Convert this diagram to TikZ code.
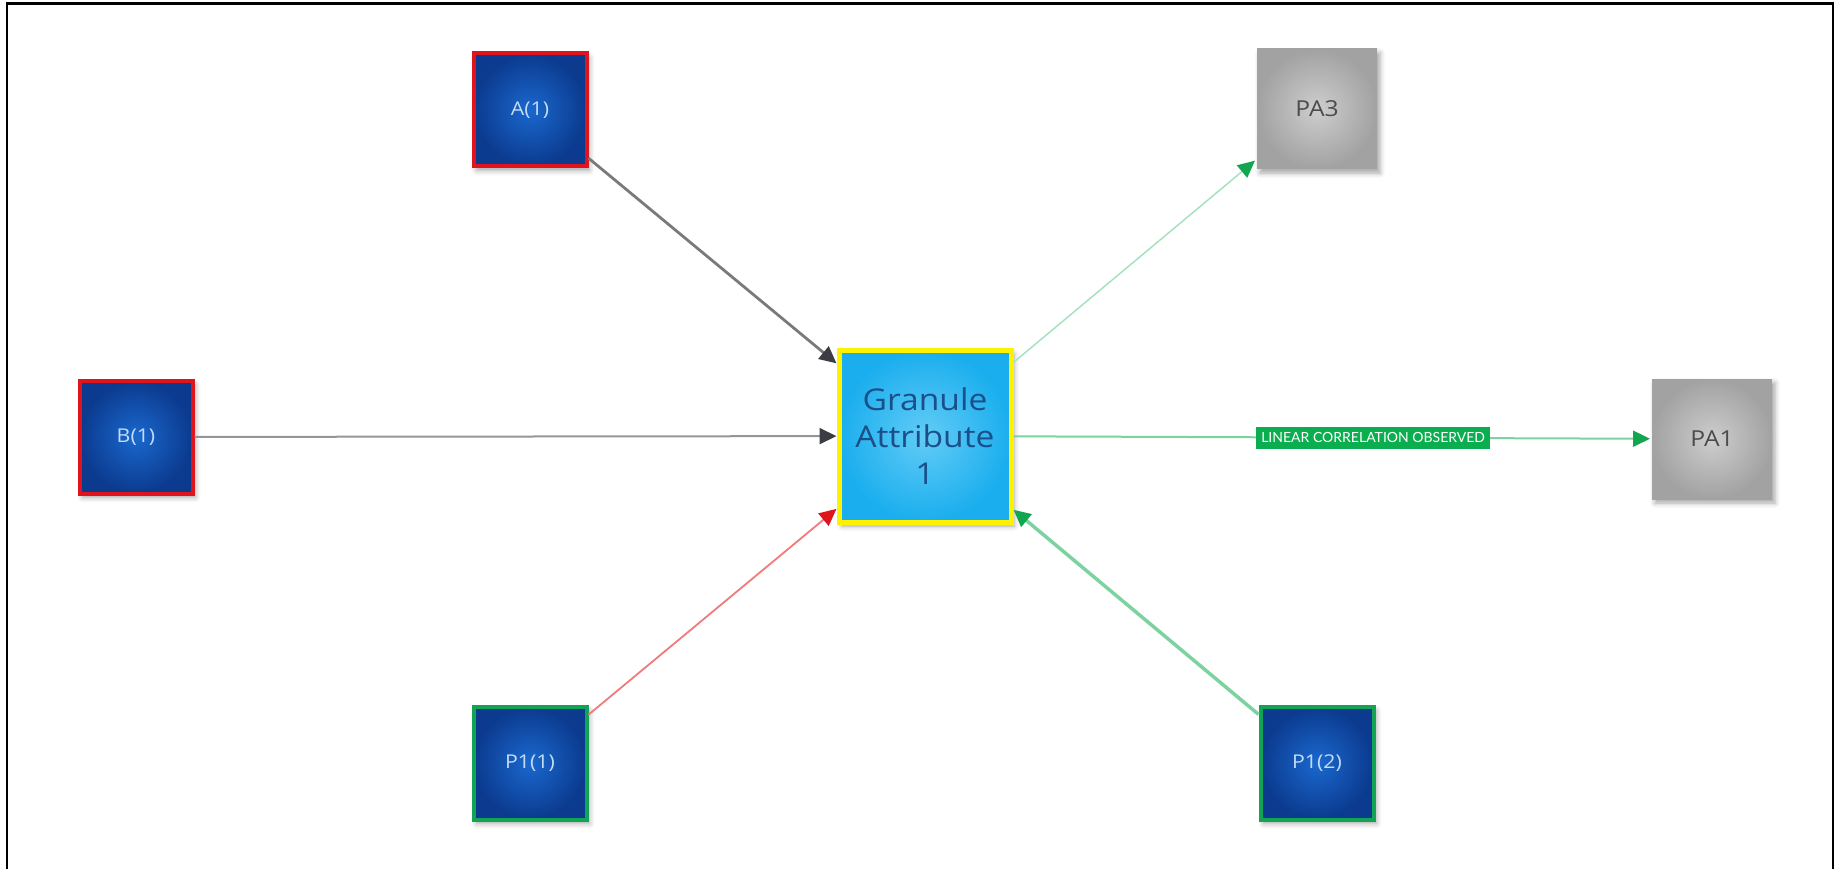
\documentclass[tikz,border=0pt]{standalone}
\usepackage{fontspec}
\setmainfont{Open Sans}
\newfontfamily\widefont[FakeStretch=1.12]{Open Sans}
\newfontfamily\tagfont{Lato}
\usetikzlibrary{arrows.meta,shadows.blur}
\definecolor{boxblueIn}{HTML}{1A68CE}
\definecolor{boxblueOut}{HTML}{0B3A8E}
\definecolor{edgered}{HTML}{E0141C}
\definecolor{edgegreen}{HTML}{12A456}
\definecolor{greyIn}{HTML}{CDCDCD}
\definecolor{greyOut}{HTML}{A2A2A2}
\definecolor{granIn}{HTML}{62CCF6}
\definecolor{granOut}{HTML}{1AAEEE}
\definecolor{granText}{HTML}{1B4F8A}
\definecolor{lblText}{HTML}{C4DCF6}
\definecolor{linkGrey}{HTML}{7A7A7A}
\definecolor{tipGrey}{HTML}{3C3C44}
\definecolor{linkRed}{HTML}{F27A7A}
\definecolor{linkGreen}{HTML}{7DD3A0}
\definecolor{linkPale}{HTML}{A6E2BE}
\definecolor{tipGreen}{HTML}{12A650}
\definecolor{tagGreen}{HTML}{0BAE4E}
\begin{document}
\begin{tikzpicture}[x=1pt,y=-1pt,
  box/.style={rectangle, inner sep=0pt, minimum size=113pt, line width=4pt,
    blur shadow={shadow xshift=3pt, shadow yshift=-4pt, shadow blur radius=5pt, shadow opacity=35}},
  bluebox/.style={box, inner color=boxblueIn, outer color=boxblueOut,
    text=lblText, font=\widefont\fontsize{19}{21}\selectfont},
  greybox/.style={box, draw=none, minimum width=120pt, minimum height=120pt,
    inner color=greyIn, outer color=greyOut,
    text=black!70, font=\widefont\fontsize{22}{24}\selectfont},
  granule/.style={box, minimum size=172pt, line width=5pt, draw=yellow,
    inner color=granIn, outer color=granOut, text=granText, align=center,
    font=\widefont\fontsize{30}{37}\selectfont},
  link/.style={-{Triangle[length=17pt,width=16pt,color=#1]}},
  tag/.style={fill=tagGreen, text=white, inner xsep=5pt, inner ysep=6pt,
    font=\tagfont\fontsize{14}{15}\selectfont}
]
\useasboundingbox (0,0) rectangle (1835,869);
\clip (0,0) rectangle (1835,869);

% page frame
\draw[line width=2.5pt] (7,890) -- (7,3.5) -- (1833,3.5) -- (1833,890);

% nodes
\node[granule] (G) at (925,436) {Granule\\Attribute\\1};
\node[bluebox, draw=edgered] (A) at (530,110) {A(1)};
\node[bluebox, draw=edgered] (B) at (136,437) {B(1)};
\node[bluebox, draw=edgegreen] (P11) at (530,763) {P1(1)};
\node[bluebox, draw=edgegreen] (P12) at (1317,763) {P1(2)};
\node[greybox] (PA3) at (1317,109) {PA3};
\node[greybox] (PA1) at (1712,439) {PA1};

% connectors
\draw[link=tipGrey, draw=linkGrey, line width=2.8pt] (A) -- (G);
\draw[link=tipGrey, draw=linkGrey!80, line width=2pt] (B) -- (G);
\draw[link=edgered, draw=linkRed, line width=1.8pt] (P11) -- (G);
\draw[link=tipGreen, draw=linkGreen, line width=3.5pt] (P12) -- (G);
\draw[link=tipGreen, draw=linkPale, line width=1.5pt] (G) -- (PA3);
\draw[link=tipGreen, draw=linkGreen, line width=2pt] (G) -- (PA1)
  node[tag, pos=0.565] (T) {LINEAR CORRELATION OBSERVED};
\end{tikzpicture}
\end{document}
